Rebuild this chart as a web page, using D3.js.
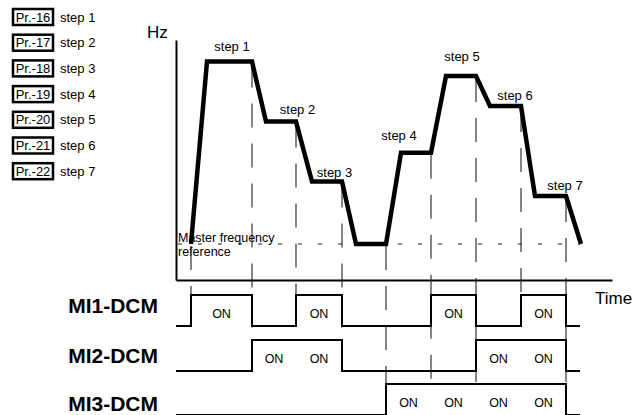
<!DOCTYPE html>
<html>
<head>
<meta charset="utf-8">
<script src="https://cdn.jsdelivr.net/npm/d3@7"></script>
<style>
  body { margin: 0; background: #fff; }
  text { font-family: "Liberation Sans", Arial, sans-serif; fill: #000; }
</style>
</head>
<body>
<div id="container"></div>
<script>
/* DATA */
const paramCodes = ["Pr.-16", "Pr.-17", "Pr.-18", "Pr.-19", "Pr.-20", "Pr.-21", "Pr.-22"];
const stepNames = ["step 1", "step 2", "step 3", "step 4", "step 5", "step 6", "step 7"];

// frequency profile (time units, Hz in % of max)
const profileTime = [15, 31, 76, 90, 120, 136, 166, 180, 210, 225, 255, 270, 300, 314, 345, 359, 390, 405];
const profileHz   = [15, 91, 91, 66, 66, 41, 41, 15, 15, 53, 53, 85, 85, 72.5, 72.5, 35, 35, 15];
const masterHz = 15;

// each step: start, end, level, multi-function input code (bit0 MI1, bit1 MI2, bit2 MI3)
const stepStart = [15, 76, 120, 210, 255, 300, 345];
const stepEnd   = [76, 120, 166, 255, 300, 345, 390];
const stepLevel = [91, 66, 41, 53, 85, 72.5, 35];
const stepCode  = [1, 2, 3, 4, 5, 6, 7];

const signalNames = ["MI1-DCM", "MI2-DCM", "MI3-DCM"];
const boundaryTimes = [15, 76, 120, 166, 210, 255, 300, 345, 390];
const boundaryRow   = [0, 1, 0, 1, 2, 2, 2, 0, 2]; // which signal row each guide runs down to

/* LAYOUT */
const W = 634, H = 415;
const svg = d3.select("#container").append("svg")
  .attr("width", W).attr("height", H);

const x = d3.scaleLinear().domain([0, 436]).range([176, 612]);
const y = d3.scaleLinear().domain([0, 100]).range([280, 40]);

// signal rows: baseline and "high" level
const rowBase = [326, 371, 415];
const rowHigh = rowBase.map(b => b - 31);
const rowLabelY = [313, 363, 411];

/* LEGEND */
const legend = svg.append("g");
paramCodes.forEach((code, i) => {
  const cy = 17 + i * 25.7;
  legend.append("rect")
    .attr("x", 13).attr("y", cy - 8)
    .attr("width", 40).attr("height", 16)
    .attr("fill", "#fff").attr("stroke", "#000").attr("stroke-width", 2.5);
  legend.append("text")
    .attr("x", 33).attr("y", cy + 4.5)
    .attr("text-anchor", "middle")
    .style("font-size", "13px")
    .text(code);
  legend.append("text")
    .attr("x", 60).attr("y", cy + 4.5)
    .style("font-size", "13px")
    .text(stepNames[i]);
});

/* AXES */
svg.append("g")
  .attr("transform", `translate(${x(0)},0)`)
  .call(d3.axisLeft(y).tickValues([]).tickSizeOuter(0))
  .select(".domain").attr("stroke", "#000").attr("stroke-width", 2);

svg.append("g")
  .attr("transform", `translate(0,${y(0)})`)
  .call(d3.axisBottom(x).tickValues([]).tickSizeOuter(0))
  .select(".domain").attr("stroke", "#000").attr("stroke-width", 2);

svg.append("text").attr("x", 147).attr("y", 38)
  .style("font-size", "17px").text("Hz");
svg.append("text").attr("x", 595).attr("y", 304)
  .style("font-size", "17px").text("Time");

/* MASTER FREQUENCY REFERENCE */
svg.append("line")
  .attr("x1", x(2)).attr("x2", x(404))
  .attr("y1", y(masterHz)).attr("y2", y(masterHz))
  .attr("stroke", "#222").attr("stroke-width", 1)
  .attr("stroke-dasharray", "4,16");

svg.append("text").attr("x", 178).attr("y", 242)
  .style("font-size", "12.5px").text("Master frequency");
svg.append("text").attr("x", 178).attr("y", 256)
  .style("font-size", "12.5px").text("reference");

/* GUIDE LINES */
boundaryTimes.forEach((t, i) => {
  const idx = profileTime.lastIndexOf(t);
  svg.append("line")
    .attr("x1", x(t)).attr("x2", x(t))
    .attr("y1", y(profileHz[idx]) + 2)
    .attr("y2", rowHigh[boundaryRow[i]])
    .attr("stroke", "#222").attr("stroke-width", 1.1)
    .attr("stroke-dasharray", "24,16");
});

/* FREQUENCY PROFILE */
const profile = profileTime.map((t, i) => [t, profileHz[i]]);
svg.append("path")
  .datum(profile)
  .attr("fill", "none")
  .attr("stroke", "#000")
  .attr("stroke-width", 4.5)
  .attr("stroke-linejoin", "miter")
  .attr("d", d3.line().x(d => x(d[0])).y(d => y(d[1])));

// step labels, nudged like the original drawing
const labelNudge = [[3, -11], [16, -8], [8, -5], [-17, -13], [1, -15], [9, -6], [14, -6]];
stepNames.forEach((name, i) => {
  svg.append("text")
    .attr("x", x((stepEnd[i] + stepStart[i] + 15) / 2) + labelNudge[i][0])
    .attr("y", y(stepLevel[i]) + labelNudge[i][1])
    .attr("text-anchor", "middle")
    .style("font-size", "13px")
    .text(name);
});

/* DIGITAL INPUT SIGNALS */
signalNames.forEach((name, r) => {
  const bit = 1 << r;
  // merge consecutive ON steps into pulses
  const pulses = [];
  stepCode.forEach((c, i) => {
    if (c & bit) {
      const last = pulses[pulses.length - 1];
      if (last && last[1] === stepStart[i]) last[1] = stepEnd[i];
      else pulses.push([stepStart[i], stepEnd[i]]);
    }
  });
  const pts = [[0, rowBase[r]]];
  pulses.forEach(p => {
    pts.push([p[0], rowBase[r]], [p[0], rowHigh[r]], [p[1], rowHigh[r]], [p[1], rowBase[r]]);
  });
  pts.push([404, rowBase[r]]);

  svg.append("path")
    .attr("fill", "none")
    .attr("stroke", "#000")
    .attr("stroke-width", 2)
    .attr("d", d3.line().x(d => x(d[0])).y(d => d[1])(pts));

  stepCode.forEach((c, i) => {
    if (c & bit) {
      svg.append("text")
        .attr("x", x((stepStart[i] + stepEnd[i]) / 2))
        .attr("y", (rowBase[r] + rowHigh[r]) / 2 + 7)
        .attr("text-anchor", "middle")
        .style("font-size", "12.5px")
        .text("ON");
    }
  });

  svg.append("text")
    .attr("x", 158).attr("y", rowLabelY[r])
    .attr("text-anchor", "end")
    .style("font-size", "21px")
    .style("font-weight", "bold")
    .text(name);
});
</script>
</body>
</html>
